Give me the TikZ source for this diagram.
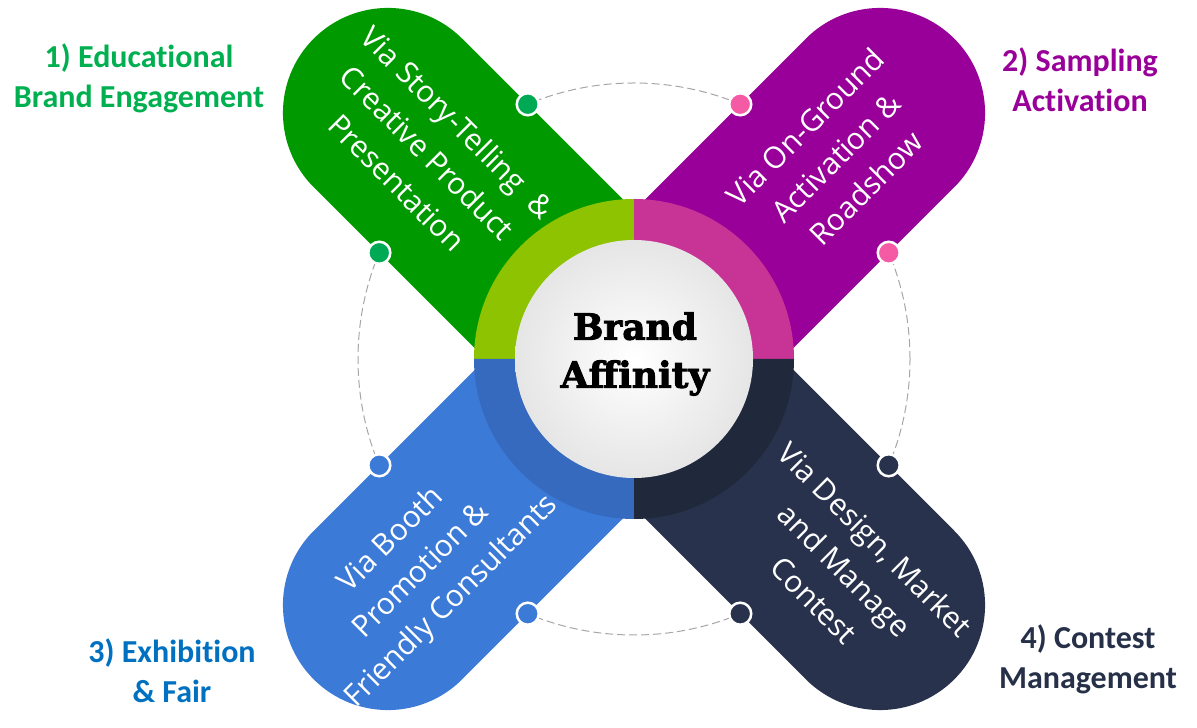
\documentclass[tikz,border=0pt]{standalone}
\usepackage{fontspec}
\setmainfont[Ligatures=CommonOff]{Carlito}
\newfontfamily\capfont[Ligatures=CommonOff]{Open Sans}
\newfontfamily\slabfont[BoldFeatures={FakeBold=2.5}]{DejaVu Serif}
\usetikzlibrary{calc}
\definecolor{capgreen}{HTML}{009A00}
\definecolor{cappurple}{HTML}{990099}
\definecolor{capblue}{HTML}{3C7AD8}
\definecolor{capdark}{HTML}{28324D}
\definecolor{ringgreen}{HTML}{8DC300}
\definecolor{ringmag}{HTML}{C83396}
\definecolor{ringblue}{HTML}{356ABF}
\definecolor{ringdark}{HTML}{20293C}
\definecolor{dotgreen}{HTML}{00AA55}
\definecolor{dotpink}{HTML}{F55AA5}
\definecolor{labgreen}{HTML}{00B050}
\definecolor{labpurple}{HTML}{990099}
\definecolor{labblue}{HTML}{0070C0}
\definecolor{labdark}{HTML}{263048}
\begin{document}
\begin{tikzpicture}[x=1pt,y=1pt,
  capsule/.style={line width=210pt, line cap=round},
  captext/.style={text=white, align=center, inner sep=0pt, font=\capfont\fontsize{30}{43}\selectfont},
  headlabel/.style={align=center, inner sep=0pt, font=\bfseries\fontsize{32}{40}\selectfont},
  ptdot/.style={circle, draw=white, line width=2.5pt, minimum size=22pt, inner sep=0pt}]
\useasboundingbox (0,0) rectangle (1197,728);
\coordinate (C) at (634,369);
% dashed guide circle
\draw[gray!70, line width=1pt, dash pattern=on 8pt off 4pt] (C) circle[radius=276];
% capsule ends
\coordinate (eG) at ($(C)+(135:348)$);
\coordinate (eP) at ($(C)+(45:348)$);
\coordinate (eB) at ($(C)+(225:348)$);
\coordinate (eD) at ($(C)+(315:348)$);
\draw[capsule, capgreen] (C) -- (eG);
\draw[capsule, cappurple] (C) -- (eP);
\draw[capsule, capblue] (C) -- (eB);
\draw[capsule, capdark] (C) -- (eD);
% ring
\fill[ringgreen] (C) -- ($(C)+(90:160)$) arc[start angle=90, end angle=180, radius=160] -- cycle;
\fill[ringmag] (C) -- ($(C)+(0:160)$) arc[start angle=0, end angle=90, radius=160] -- cycle;
\fill[ringblue] (C) -- ($(C)+(180:160)$) arc[start angle=180, end angle=270, radius=160] -- cycle;
\fill[ringdark] (C) -- ($(C)+(270:160)$) arc[start angle=270, end angle=360, radius=160] -- cycle;
% center disc
\shade[inner color=white, outer color=gray!20] (C) circle[radius=119];
\node[align=center, inner sep=0pt, font=\slabfont\bfseries\fontsize{36}{48}\selectfont] (ctr) at (635,374) {Brand\\Affinity};
% dots
\node[ptdot, fill=dotgreen] (g1) at ($(C)+(112.64:276)$) {};
\node[ptdot, fill=dotgreen] (g2) at ($(C)+(157.36:276)$) {};
\node[ptdot, fill=dotpink] (p1) at ($(C)+(22.64:276)$) {};
\node[ptdot, fill=dotpink] (p2) at ($(C)+(67.36:276)$) {};
\node[ptdot, fill=capblue] (b1) at ($(C)+(202.64:276)$) {};
\node[ptdot, fill=capblue] (b2) at ($(C)+(247.36:276)$) {};
\node[ptdot, fill=capdark] (k1) at ($(C)+(292.64:276)$) {};
\node[ptdot, fill=capdark] (k2) at ($(C)+(337.36:276)$) {};
% capsule texts
\node[captext, rotate=-45] (tG) at ($(C)+(135:292)$) {Via Story-Telling~ \&\\Creative Product\\Presentation};
\node[captext, rotate=45] (tP) at ($(C)+(45:285)$) {Via On-Ground\\Activation \&\\Roadshow};
\node[captext, rotate=45] (tB) at ($(C)+(225:300)$) {Via Booth\\Promotion \&\\Friendly Consultants};
\node[captext, rotate=-45] (tD) at ($(C)+(315:298)$) {Via Design, Market\\and Manage\\Contest};
% heading labels
\node[headlabel, text=labgreen] (hG) at (139,650) {1) Educational\\Brand Engagement};
\node[headlabel, text=labpurple] (hP) at (1080,648) {2) Sampling\\Activation};
\node[headlabel, text=labblue] (hB) at (172,57) {3) Exhibition\\\& Fair};
\node[headlabel, text=labdark] (hD) at (1088,69) {4) Contest\\Management};
\end{tikzpicture}
\end{document}
